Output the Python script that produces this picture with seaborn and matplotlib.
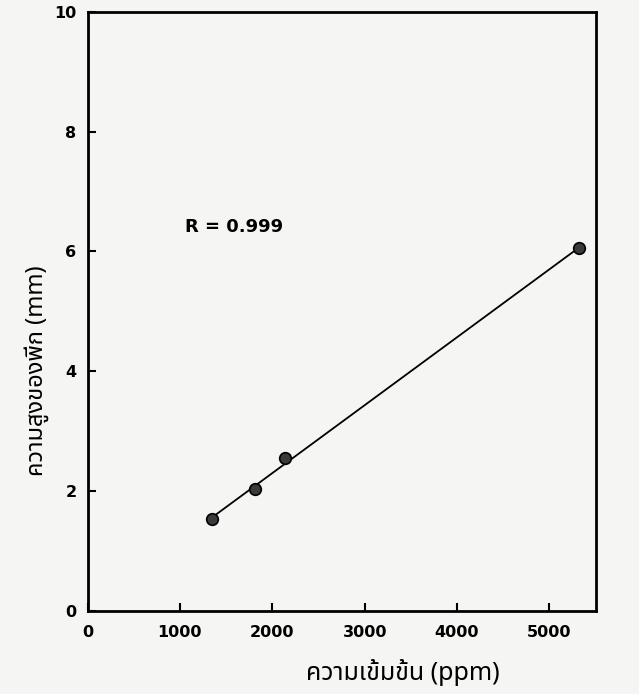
import matplotlib
matplotlib.use("Agg")
import matplotlib.pyplot as plt
import seaborn as sns
import pandas as pd

# data
conc_ppm = [1350, 1810, 2140, 5320]
peak_mm = [1.53, 2.03, 2.55, 6.05]
x_ticks = [0, 1000, 2000, 3000, 4000, 5000]
y_ticks = [0, 2, 4, 6, 8, 10]
r_label = "R = 0.999"
x_title = "ความเข้มข้น (ppm)"
y_title = "ความสูงของพีก (mm)"

sns.set_style("ticks")
plt.rcParams['font.family'] = ['DejaVu Sans', 'Noto Sans Thai']
thai_fam = ['Noto Sans Thai', 'DejaVu Sans']

df = pd.DataFrame({"x": conc_ppm, "y": peak_mm})

bg = "#f5f5f3"
fig = plt.figure(figsize=(6.39, 6.94), dpi=100, facecolor=bg)
ax = fig.add_axes([0.137, 0.120, 0.795, 0.863])
ax.set_facecolor(bg)

sns.regplot(data=df, x="x", y="y", scatter=False, ci=None, ax=ax,
            line_kws=dict(color="black", lw=1.3))
sns.scatterplot(data=df, x="x", y="y", ax=ax, s=70, marker="o",
                facecolor="#3a3a3a", edgecolor="black", linewidth=1.2, zorder=5)

ax.set_xlim(0, 5500)
ax.set_ylim(0, 10)
ax.set_xticks(x_ticks)
ax.set_yticks(y_ticks)
ax.set_xticklabels([str(t) for t in x_ticks], fontsize=11.5, fontweight="bold", color="black")
ax.set_yticklabels([str(t) for t in y_ticks], fontsize=11.5, fontweight="bold", color="black")
ax.tick_params(direction="in", length=6, width=1.5, pad=8, colors="black")
ax.tick_params(axis="x", pad=10)
for s in ax.spines.values():
    s.set_linewidth(2)
    s.set_color("black")
    s.set_visible(True)

ax.set_xlabel(x_title, fontsize=18, family=thai_fam, fontweight="bold", color="black")
ax.set_ylabel(y_title, fontsize=17, family=thai_fam, fontweight="bold", color="black")
ax.xaxis.set_label_coords(0.62, -0.08)
ax.yaxis.set_label_coords(-0.075, 0.40)

ax.text(1060, 6.4, r_label, fontsize=13, fontweight="bold", va="center", ha="left", color="black")

fig.savefig("out.png", dpi=100, facecolor=bg)
